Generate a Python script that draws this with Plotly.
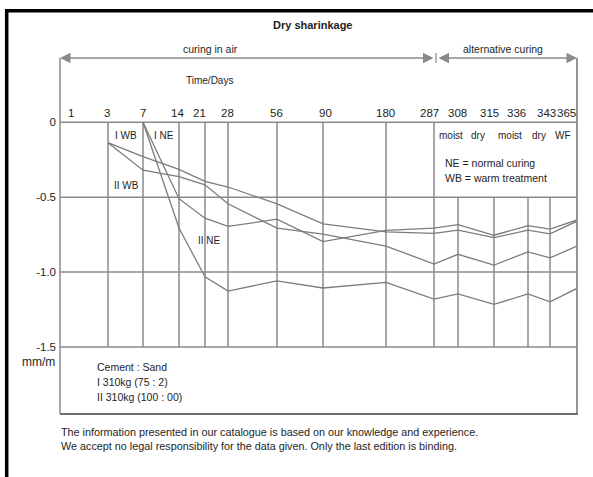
import plotly.graph_objects as go

# ---------------- data ----------------
DAYS = [1, 3, 7, 14, 21, 28, 56, 90, 180, 287, 308, 315, 336, 343, 365]
DAY_LABELS = [str(d) for d in DAYS]

WB_DAYS = [3, 7, 14, 21, 28, 56, 90, 180, 287, 308, 315, 336, 343, 365]
NE_DAYS = [7, 14, 21, 28, 56, 90, 180, 287, 308, 315, 336, 343, 365]

I_WB = [-0.136, -0.229, -0.315, -0.395, -0.432, -0.544, -0.678, -0.731, -0.742, -0.720, -0.770, -0.720, -0.745, -0.660]
II_WB = [-0.136, -0.320, -0.363, -0.417, -0.544, -0.706, -0.747, -0.826, -0.946, -0.881, -0.953, -0.865, -0.905, -0.826]
I_NE = [0.0, -0.510, -0.640, -0.695, -0.647, -0.797, -0.722, -0.706, -0.683, -0.754, -0.690, -0.713, -0.652]
II_NE = [0.0, -0.706, -1.032, -1.127, -1.058, -1.106, -1.069, -1.180, -1.146, -1.215, -1.146, -1.198, -1.109]

Y_TICKS = [0, -0.5, -1.0, -1.5]
Y_TICK_TEXT = ["0", "-0.5", "-1.0", "-1.5"]

PHASE_LABELS = ["moist", "dry", "moist", "dry", "WF"]

# ---------------- layout (the chart's own non-linear time scale) ----------------
W, H = 593, 477
L, R, T, B = 60, 16, 58, 63
PW, PH = W - L - R, H - T - B
AXIS_POS = {1: 12, 3: 48, 7: 83, 14: 119, 21: 145, 28: 168, 56: 217, 90: 263,
            180: 326, 287: 374, 308: 398, 315: 434, 336: 468, 343: 490, 365: 517}
TICK_LABEL_X = [71, 107, 143, 177, 199, 227, 276, 325, 385, 429, 457, 489, 516, 546, 566]
PHASE_X = [451, 478, 510, 539, 563]
Y_TOP, Y_BOT = 0.429, -1.947

GRID = "#8a8a8a"
LINE = "#7c7c7c"
TXT = "#1e1e1e"
FONT = "Liberation Sans, Arial, sans-serif"


def px(x):
    return (x - L) / PW


def py(y):
    return (T + PH - y) / PH


def xs(days):
    return [AXIS_POS[d] for d in days]


fig = go.Figure()
for name, days, vals in [("I WB", WB_DAYS, I_WB), ("II WB", WB_DAYS, II_WB),
                         ("I NE", NE_DAYS, I_NE), ("II NE", NE_DAYS, II_NE)]:
    fig.add_trace(go.Scatter(x=xs(days), y=vals, mode="lines", name=name,
                             line=dict(color=LINE, width=1.3), showlegend=False,
                             hoverinfo="skip"))

shapes = []
# horizontal grid
for v in Y_TICKS:
    shapes.append(dict(type="line", xref="paper", yref="y", x0=0, x1=1, y0=v, y1=v,
                       line=dict(color=GRID, width=1.5), layer="below"))
# vertical grid
for d in DAYS:
    if d in (1, 365):
        continue
    top = -0.5 if d in (308, 315, 336, 343) else 0
    shapes.append(dict(type="line", xref="x", yref="y", x0=AXIS_POS[d], x1=AXIS_POS[d],
                       y0=top, y1=-1.5, line=dict(color=GRID, width=1.5), layer="below"))
# frame
shapes.append(dict(type="line", xref="paper", yref="paper", x0=0, x1=0, y0=0, y1=1,
                   line=dict(color=GRID, width=1.5)))
shapes.append(dict(type="line", xref="paper", yref="paper", x0=1, x1=1, y0=0, y1=1,
                   line=dict(color=GRID, width=1.8)))
shapes.append(dict(type="line", xref="paper", yref="paper", x0=0, x1=px(578), y0=0, y1=0,
                   line=dict(color="#6e6e6e", width=2)))
# divider mark between the two curing phases
shapes.append(dict(type="line", xref="paper", yref="paper", x0=px(436), x1=px(436),
                   y0=py(53), y1=py(63), line=dict(color=GRID, width=1.2)))
# black outer border
shapes.append(dict(type="line", xref="paper", yref="paper", x0=px(6.7), x1=px(6.7),
                   y0=py(9), y1=py(490), line=dict(color="black", width=3.5)))
shapes.append(dict(type="line", xref="paper", yref="paper", x0=px(5), x1=px(600),
                   y0=py(10.8), y1=py(10.8), line=dict(color="black", width=3.5)))

ann = []


def text(x, y, s, size=10.5, anchor="center", bold=False):
    ann.append(dict(x=px(x), y=py(y), xref="paper", yref="paper", text=f"<b>{s}</b>" if bold else s,
                    showarrow=False, xanchor=anchor, yanchor="middle",
                    font=dict(family=FONT, size=size, color=TXT)))


# arrows
ann.append(dict(x=px(60), y=py(58), xref="paper", yref="paper", ax=375, ay=0, text="",
                showarrow=True, arrowside="end+start", arrowhead=2, startarrowhead=2,
                arrowsize=1.4, startarrowsize=1.4, arrowwidth=1.5, arrowcolor=GRID))
ann.append(dict(x=px(577), y=py(58), xref="paper", yref="paper", ax=-140, ay=0, text="",
                showarrow=True, arrowside="end+start", arrowhead=2, startarrowhead=2,
                arrowsize=1.4, startarrowsize=1.4, arrowwidth=1.5, arrowcolor=GRID))

text(312, 25, "Dry sharinkage", size=11, bold=True)
text(210, 49, "curing in air", size=10.5)
text(503, 49, "alternative curing", size=10.5)
text(209, 80, "Time/Days", size=10)
for lx, lab in zip(TICK_LABEL_X, DAY_LABELS):
    text(lx, 113, lab, size=11.5)
text(126, 135, "I WB", size=10)
text(164, 135, "I NE", size=10)
text(126, 185, "II WB", size=10)
text(209, 240, "II NE", size=10)
for lx, lab in zip(PHASE_X, PHASE_LABELS):
    text(lx, 135, lab, size=10)
text(443, 163, "NE = normal curing", size=10.5, anchor="left")
text(443, 178, "WB = warm treatment", size=10.5, anchor="left")
text(95, 367, "Cement : Sand", size=10.5, anchor="left")
text(95, 382, "I 310kg (75 : 2)", size=10.5, anchor="left")
text(95, 397, "II 310kg (100 : 00)", size=10.5, anchor="left")
text(57, 362, "mm/m", size=12, anchor="right")
text(59, 432, "The information presented in our catalogue is based on our knowledge and experience.",
     size=10.8, anchor="left")
text(59, 446, "We accept no legal responsibility for the data given. Only the last edition is binding.",
     size=10.8, anchor="left")

fig.update_layout(
    width=W, height=H,
    margin=dict(l=L, r=R, t=T, b=B, pad=0),
    paper_bgcolor="white", plot_bgcolor="white",
    xaxis=dict(range=[0, PW], visible=False, fixedrange=True),
    yaxis=dict(range=[Y_BOT, Y_TOP], tickvals=Y_TICKS, ticktext=Y_TICK_TEXT,
               showgrid=False, zeroline=False, showline=False, ticks="",
               ticklabelstandoff=3,
               tickfont=dict(family=FONT, size=11.5, color=TXT), fixedrange=True),
    shapes=shapes,
    annotations=ann,
    showlegend=False,
)

fig.write_html("out.html", config={"displayModeBar": False, "staticPlot": True},
               post_script="document.body.style.margin='0';")
